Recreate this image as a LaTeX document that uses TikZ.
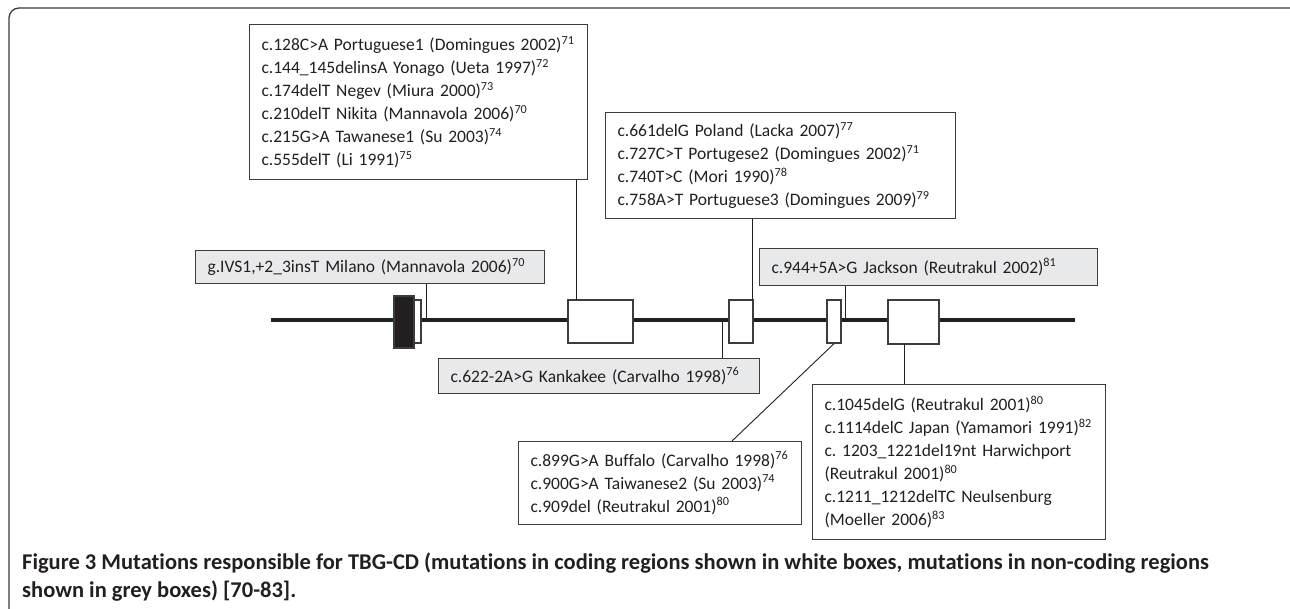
\documentclass[tikz,border=0pt]{standalone}
\usepackage{fontspec}
\setmainfont[Ligatures=NoCommon]{Carlito}
\frenchspacing
\definecolor{inkgrey}{HTML}{231F20}
\definecolor{edgegrey}{HTML}{3C3C3C}
\definecolor{ncfill}{HTML}{E8E9EA}

\begin{document}
\begin{tikzpicture}[x=1pt,y=-1pt,
    mutbox/.style={draw=edgegrey,line width=1.1pt,fill=white,anchor=north west,
      align=left,inner xsep=12pt,inner ysep=0pt,text=inkgrey,
      font=\fontsize{17.5}{23}\selectfont},
    ncbox/.style={mutbox,fill=ncfill},
    exon/.style={draw=edgegrey,line width=1.3pt,fill=white,inner sep=0pt},
    link/.style={draw=inkgrey,line width=0.9pt}]
    \useasboundingbox (0,0) rectangle (1290,608);
    % frame
    \draw[edgegrey,line width=1.3pt,rounded corners=10pt] (9,640) -- (9,8) -- (1300,8) -- (1300,640);

    % gene
    \coordinate (gs) at (271,320);
    \coordinate (ge) at (1075,320);
    \draw[line width=4.5pt,inkgrey] (gs) -- (ge);
    \node[exon,minimum width=7pt,minimum height=43pt] (ex1b) at (417.5,321.5) {};
    \node[exon,fill=inkgrey,minimum width=20pt,minimum height=52pt] (ex1) at (404,322) {};
    \node[exon,minimum width=65pt,minimum height=43pt] (ex2) at (600.5,321.5) {};
    \node[exon,minimum width=24pt,minimum height=43pt] (ex3) at (741,321.5) {};
    \node[exon,minimum width=14pt,minimum height=43pt] (ex4) at (834,321.5) {};
    \node[exon,minimum width=51pt,minimum height=44pt] (ex5) at (913.5,322) {};

    % mutation boxes
    \node[mutbox,text width=314pt,minimum height=155pt] (mutA) at (249,24)
      {c.128C>A Portuguese1 (Domingues 2002)\textsuperscript{71}\\
       c.144\_145delinsA Yonago (Ueta 1997)\textsuperscript{72}\\
       c.174delT Negev (Miura 2000)\textsuperscript{73}\\
       c.210delT Nikita (Mannavola 2006)\textsuperscript{70}\\
       c.215G>A Tawanese1 (Su 2003)\textsuperscript{74}\\
       c.555delT (Li 1991)\textsuperscript{75}};
    \node[mutbox,text width=326pt,minimum height=106pt] (mutB) at (605,112)
      {c.661delG Poland (Lacka 2007)\textsuperscript{77}\\
       c.727C>T Portugese2 (Domingues 2002)\textsuperscript{71}\\
       c.740T>C (Mori 1990)\textsuperscript{78}\\
       c.758A>T Portuguese3 (Domingues 2009)\textsuperscript{79}};
    \node[ncbox,text width=325pt,minimum height=33pt] (milano) at (195,250)
      {g.IVS1,+2\_3insT Milano (Mannavola 2006)\textsuperscript{70}};
    \node[ncbox,text width=314pt,minimum height=37pt] (jackson) at (759,248)
      {c.944+5A>G Jackson (Reutrakul 2002)\textsuperscript{81}};
    \node[ncbox,text width=297pt,minimum height=35pt] (kankakee) at (438,358)
      {c.622-2A>G Kankakee (Carvalho 1998)\textsuperscript{76}};
    \node[mutbox,text width=259pt,minimum height=83pt] (buffalo) at (518,441)
      {c.899G>A Buffalo (Carvalho 1998)\textsuperscript{76}\\
       c.900G>A Taiwanese2 (Su 2003)\textsuperscript{74}\\
       c.909del (Reutrakul 2001)\textsuperscript{80}};
    \node[mutbox,text width=269pt,minimum height=155pt] (reutrakul) at (812,384)
      {c.1045delG (Reutrakul 2001)\textsuperscript{80}\\
       c.1114delC Japan (Yamamori 1991)\textsuperscript{82}\\
       c. 1203\_1221del19nt Harwichport\\
       (Reutrakul 2001)\textsuperscript{80}\\
       c.1211\_1212delTC Neulsenburg\\
       (Moeller 2006)\textsuperscript{83}};

    % connectors
    \coordinate (m1) at (426,320);
    \coordinate (m2) at (576,300);
    \coordinate (m3) at (752,300);
    \coordinate (m4) at (722,320);
    \coordinate (m5) at (845,320);
    \coordinate (m6) at (732,441);
    \coordinate (m7) at (904,344);
    \path[link] (milano.south -| m1) edge (m1);
    \path[link] (mutA.south -| m2) edge (m2);
    \path[link] (mutB.south -| m3) edge (m3);
    \path[link] (m4) edge (kankakee.north -| m4);
    \path[link] (jackson.south -| m5) edge (m5);
    \path[link] (ex4.south) edge (m6);
    \path[link] (m7) edge (reutrakul.north -| m7);

    % caption
    \node[anchor=north west,align=left,inner sep=0pt,text=inkgrey,
      font=\fontsize{22.5}{28}\selectfont\bfseries] (caption) at (22,553)
      {Figure 3 Mutations responsible for TBG-CD (mutations in coding regions shown in white boxes, mutations in non-coding regions\\
       shown in grey boxes) [70-83].};
\end{tikzpicture}
\end{document}
